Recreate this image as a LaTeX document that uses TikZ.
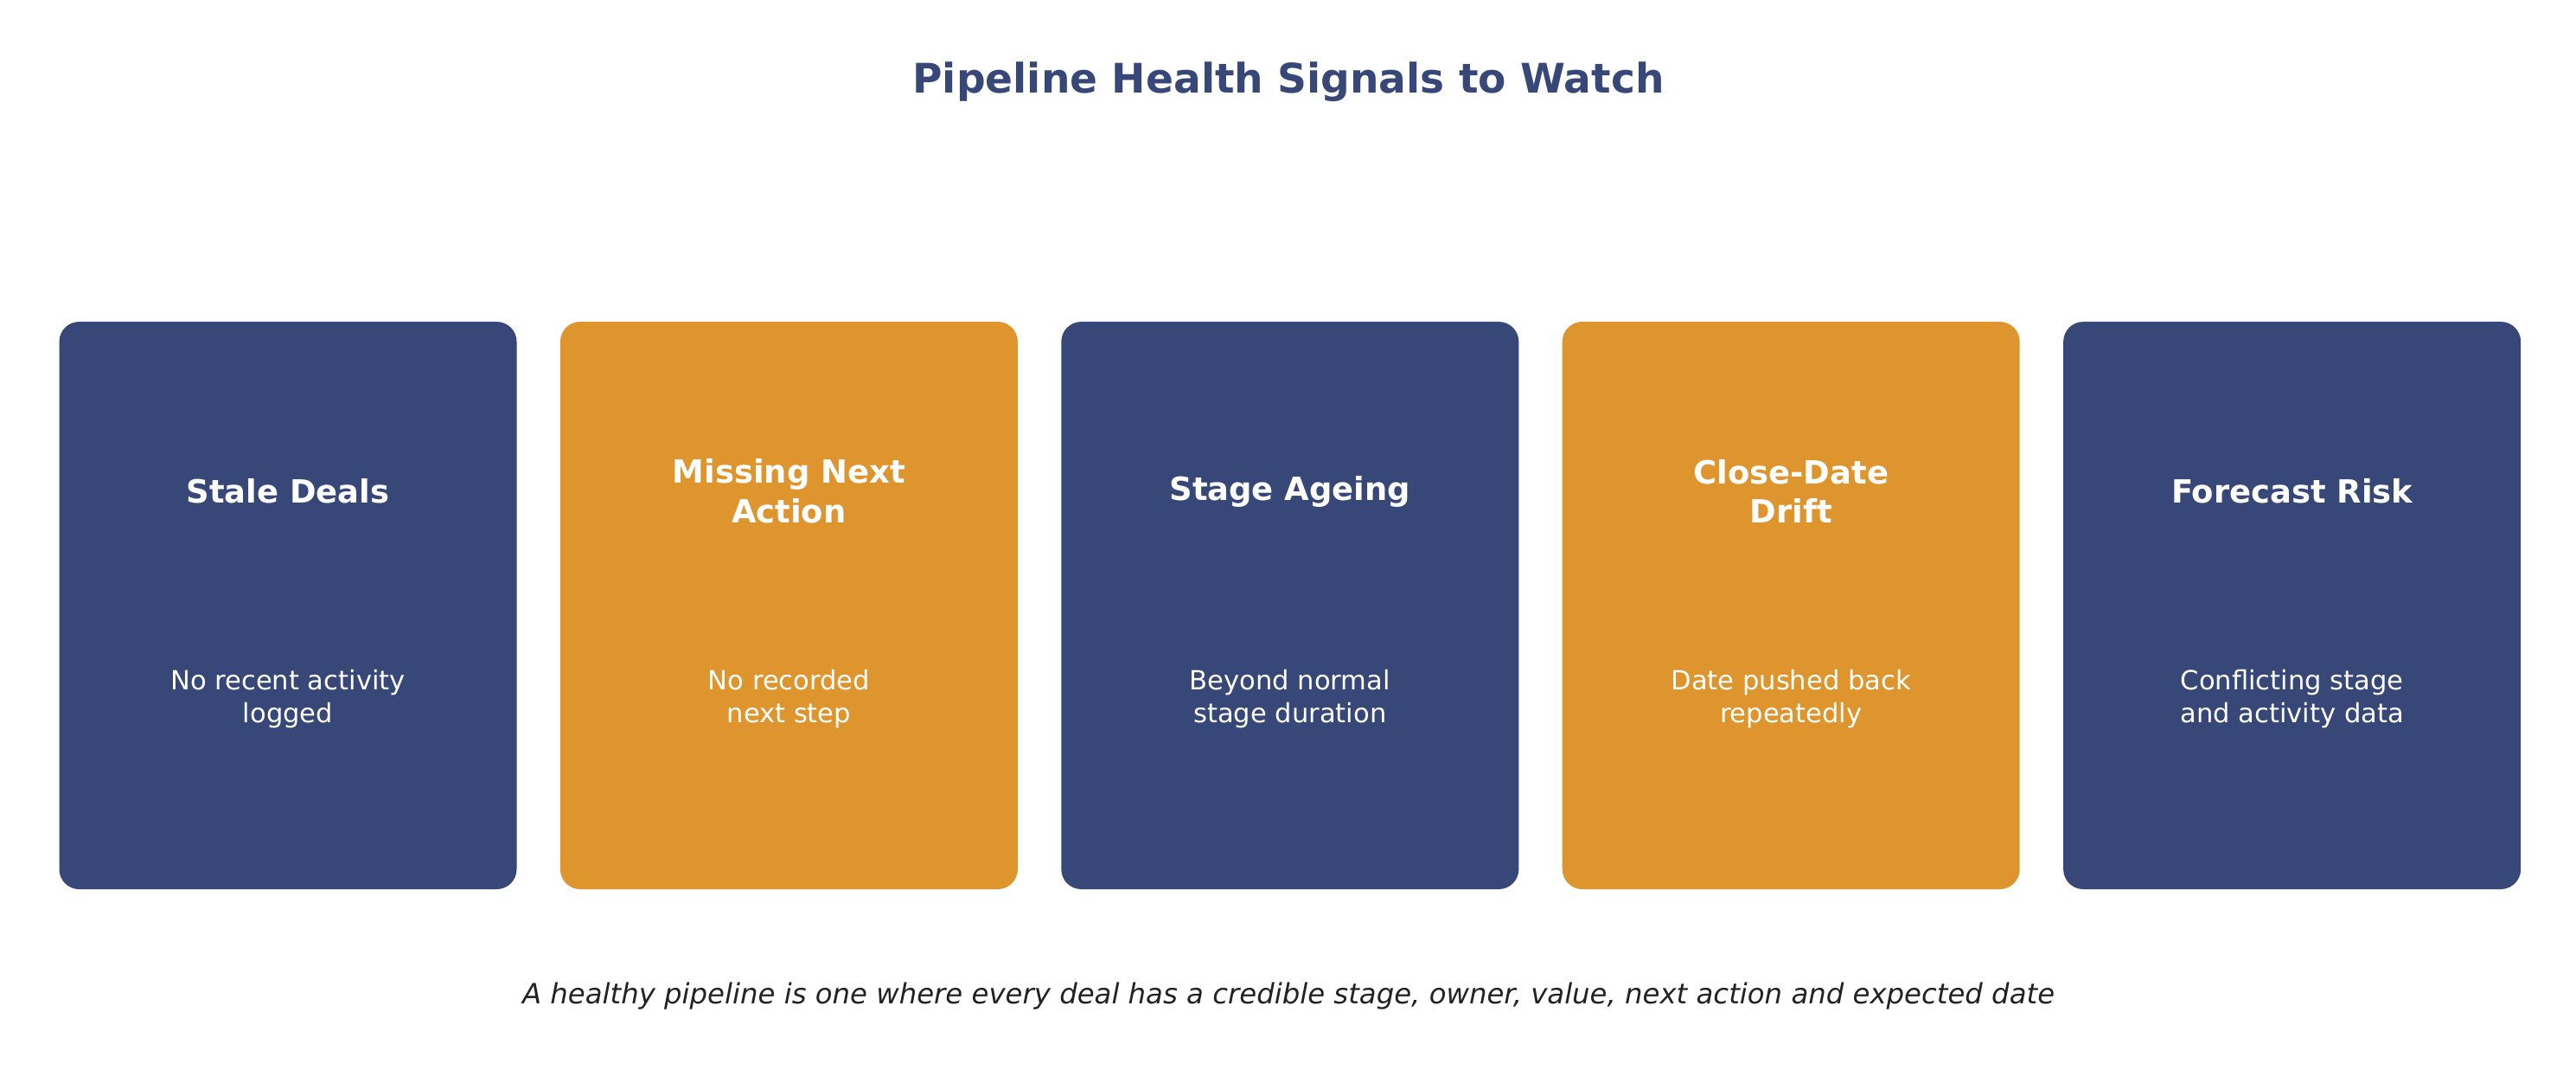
\documentclass[tikz,border=0pt]{standalone}
\usepackage{fontspec}
\setmainfont{DejaVu Sans}
\usetikzlibrary{positioning}
\definecolor{signalnavy}{RGB}{55,72,120}
\definecolor{signalorange}{RGB}{223,149,45}
\definecolor{footgray}{RGB}{34,34,34}

\tikzset{
  card/.style={rounded corners=0.23cm, minimum width=5.29cm, minimum height=6.56cm, inner sep=0pt},
  head/.style={text=white, font=\fontsize{10.5}{13}\selectfont\bfseries, align=center},
  body/.style={text=white, font=\fontsize{8.7}{11}\selectfont, align=center}
}

\begin{document}
\begin{tikzpicture}
\useasboundingbox (0,0) rectangle (29.79,-12.59);
% title
\node[text=signalnavy, font=\fontsize{13.4}{16}\selectfont\bfseries] (title) at (14.9,-0.95) {Pipeline Health Signals to Watch};

% cards
\node[card, fill=signalnavy] (stale) at (3.33,-7.0) {};
\node[card, fill=signalorange, right=0.49cm of stale] (missing) {};
\node[card, fill=signalnavy, right=0.49cm of missing] (ageing) {};
\node[card, fill=signalorange, right=0.49cm of ageing] (drift) {};
\node[card, fill=signalnavy, right=0.49cm of drift] (risk) {};

% headings
\node[head] (staleH) at ([yshift=1.32cm]stale.center) {Stale Deals};
\node[head] (missingH) at ([yshift=1.32cm]missing.center) {Missing Next\\Action};
\node[head] (ageingH) at ([yshift=1.32cm]ageing.center) {Stage Ageing};
\node[head] (driftH) at ([yshift=1.32cm]drift.center) {Close-Date\\Drift};
\node[head] (riskH) at ([yshift=1.32cm]risk.center) {Forecast Risk};

% descriptions
\node[body] (staleB) at ([yshift=-1.08cm]stale.center) {No recent activity\\logged};
\node[body] (missingB) at ([yshift=-1.08cm]missing.center) {No recorded\\next step};
\node[body] (ageingB) at ([yshift=-1.08cm]ageing.center) {Beyond normal\\stage duration};
\node[body] (driftB) at ([yshift=-1.08cm]drift.center) {Date pushed back\\repeatedly};
\node[body] (riskB) at ([yshift=-1.08cm]risk.center) {Conflicting stage\\and activity data};

% footer
\node[text=footgray, font=\fontsize{9.2}{12}\selectfont\itshape] (foot) at (14.9,-11.52) {A healthy pipeline is one where every deal has a credible stage, owner, value, next action and expected date};
\end{tikzpicture}
\end{document}
